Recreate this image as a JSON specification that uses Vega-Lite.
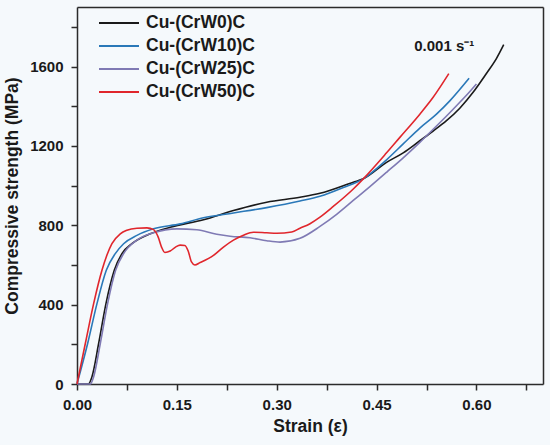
{
  "$schema": "https://vega.github.io/schema/vega-lite/v6.json",
  "width": 466,
  "height": 377,
  "autosize": {"type": "none"},
  "padding": {"left": 77, "top": 7, "right": 7, "bottom": 61},
  "background": "#f5f9fc",
  "config": {
    "font": "Liberation Sans",
    "view": {"stroke": null}
  },
  "resolve": {"axis": {"x": "independent", "y": "independent"}},
  "datasets": {
    "curves": [
      {"series": "Cu-(CrW0)C", "strain": 0.0, "stress": 0},
      {"series": "Cu-(CrW0)C", "strain": 0.017, "stress": 0},
      {"series": "Cu-(CrW0)C", "strain": 0.0225, "stress": 37},
      {"series": "Cu-(CrW0)C", "strain": 0.0325, "stress": 204},
      {"series": "Cu-(CrW0)C", "strain": 0.0435, "stress": 405},
      {"series": "Cu-(CrW0)C", "strain": 0.056, "stress": 573},
      {"series": "Cu-(CrW0)C", "strain": 0.0675, "stress": 657},
      {"series": "Cu-(CrW0)C", "strain": 0.0825, "stress": 707},
      {"series": "Cu-(CrW0)C", "strain": 0.11, "stress": 757},
      {"series": "Cu-(CrW0)C", "strain": 0.14, "stress": 790},
      {"series": "Cu-(CrW0)C", "strain": 0.19, "stress": 828},
      {"series": "Cu-(CrW0)C", "strain": 0.235, "stress": 874},
      {"series": "Cu-(CrW0)C", "strain": 0.285, "stress": 916},
      {"series": "Cu-(CrW0)C", "strain": 0.335, "stress": 941},
      {"series": "Cu-(CrW0)C", "strain": 0.365, "stress": 961},
      {"series": "Cu-(CrW0)C", "strain": 0.415, "stress": 1017},
      {"series": "Cu-(CrW0)C", "strain": 0.43, "stress": 1034},
      {"series": "Cu-(CrW0)C", "strain": 0.465, "stress": 1117},
      {"series": "Cu-(CrW0)C", "strain": 0.49, "stress": 1165},
      {"series": "Cu-(CrW0)C", "strain": 0.515, "stress": 1226},
      {"series": "Cu-(CrW0)C", "strain": 0.535, "stress": 1275},
      {"series": "Cu-(CrW0)C", "strain": 0.555, "stress": 1327},
      {"series": "Cu-(CrW0)C", "strain": 0.575, "stress": 1390},
      {"series": "Cu-(CrW0)C", "strain": 0.595, "stress": 1470},
      {"series": "Cu-(CrW0)C", "strain": 0.615, "stress": 1565},
      {"series": "Cu-(CrW0)C", "strain": 0.63, "stress": 1640},
      {"series": "Cu-(CrW0)C", "strain": 0.641, "stress": 1710},

      {"series": "Cu-(CrW10)C", "strain": 0.0, "stress": 0},
      {"series": "Cu-(CrW10)C", "strain": 0.016, "stress": 204},
      {"series": "Cu-(CrW10)C", "strain": 0.03, "stress": 405},
      {"series": "Cu-(CrW10)C", "strain": 0.044, "stress": 573},
      {"series": "Cu-(CrW10)C", "strain": 0.0575, "stress": 657},
      {"series": "Cu-(CrW10)C", "strain": 0.07, "stress": 707},
      {"series": "Cu-(CrW10)C", "strain": 0.09, "stress": 749},
      {"series": "Cu-(CrW10)C", "strain": 0.115, "stress": 782},
      {"series": "Cu-(CrW10)C", "strain": 0.155, "stress": 807},
      {"series": "Cu-(CrW10)C", "strain": 0.19, "stress": 838},
      {"series": "Cu-(CrW10)C", "strain": 0.235, "stress": 862},
      {"series": "Cu-(CrW10)C", "strain": 0.285, "stress": 889},
      {"series": "Cu-(CrW10)C", "strain": 0.335, "stress": 922},
      {"series": "Cu-(CrW10)C", "strain": 0.365, "stress": 946},
      {"series": "Cu-(CrW10)C", "strain": 0.4, "stress": 990},
      {"series": "Cu-(CrW10)C", "strain": 0.43, "stress": 1034},
      {"series": "Cu-(CrW10)C", "strain": 0.465, "stress": 1130},
      {"series": "Cu-(CrW10)C", "strain": 0.49, "stress": 1210},
      {"series": "Cu-(CrW10)C", "strain": 0.515, "stress": 1290},
      {"series": "Cu-(CrW10)C", "strain": 0.54, "stress": 1360},
      {"series": "Cu-(CrW10)C", "strain": 0.56, "stress": 1427},
      {"series": "Cu-(CrW10)C", "strain": 0.589, "stress": 1541},

      {"series": "Cu-(CrW25)C", "strain": 0.0, "stress": 0},
      {"series": "Cu-(CrW25)C", "strain": 0.02, "stress": 0},
      {"series": "Cu-(CrW25)C", "strain": 0.025, "stress": 37},
      {"series": "Cu-(CrW25)C", "strain": 0.035, "stress": 204},
      {"series": "Cu-(CrW25)C", "strain": 0.046, "stress": 405},
      {"series": "Cu-(CrW25)C", "strain": 0.058, "stress": 573},
      {"series": "Cu-(CrW25)C", "strain": 0.07, "stress": 657},
      {"series": "Cu-(CrW25)C", "strain": 0.09, "stress": 725},
      {"series": "Cu-(CrW25)C", "strain": 0.115, "stress": 762},
      {"series": "Cu-(CrW25)C", "strain": 0.15, "stress": 782},
      {"series": "Cu-(CrW25)C", "strain": 0.18, "stress": 777},
      {"series": "Cu-(CrW25)C", "strain": 0.21, "stress": 755},
      {"series": "Cu-(CrW25)C", "strain": 0.23, "stress": 745},
      {"series": "Cu-(CrW25)C", "strain": 0.26, "stress": 737},
      {"series": "Cu-(CrW25)C", "strain": 0.285, "stress": 722},
      {"series": "Cu-(CrW25)C", "strain": 0.305, "stress": 715},
      {"series": "Cu-(CrW25)C", "strain": 0.335, "stress": 734},
      {"series": "Cu-(CrW25)C", "strain": 0.365, "stress": 794},
      {"series": "Cu-(CrW25)C", "strain": 0.39, "stress": 855},
      {"series": "Cu-(CrW25)C", "strain": 0.415, "stress": 925},
      {"series": "Cu-(CrW25)C", "strain": 0.44, "stress": 995},
      {"series": "Cu-(CrW25)C", "strain": 0.465, "stress": 1067},
      {"series": "Cu-(CrW25)C", "strain": 0.49, "stress": 1140},
      {"series": "Cu-(CrW25)C", "strain": 0.515, "stress": 1218},
      {"series": "Cu-(CrW25)C", "strain": 0.54, "stress": 1300},
      {"series": "Cu-(CrW25)C", "strain": 0.565, "stress": 1385},
      {"series": "Cu-(CrW25)C", "strain": 0.585, "stress": 1455},
      {"series": "Cu-(CrW25)C", "strain": 0.6, "stress": 1512},

      {"series": "Cu-(CrW50)C", "strain": 0.0, "stress": 0},
      {"series": "Cu-(CrW50)C", "strain": 0.0125, "stress": 204},
      {"series": "Cu-(CrW50)C", "strain": 0.025, "stress": 405},
      {"series": "Cu-(CrW50)C", "strain": 0.0375, "stress": 573},
      {"series": "Cu-(CrW50)C", "strain": 0.045, "stress": 650},
      {"series": "Cu-(CrW50)C", "strain": 0.0525, "stress": 707},
      {"series": "Cu-(CrW50)C", "strain": 0.065, "stress": 757},
      {"series": "Cu-(CrW50)C", "strain": 0.075, "stress": 775},
      {"series": "Cu-(CrW50)C", "strain": 0.09, "stress": 785},
      {"series": "Cu-(CrW50)C", "strain": 0.105, "stress": 787},
      {"series": "Cu-(CrW50)C", "strain": 0.115, "stress": 778},
      {"series": "Cu-(CrW50)C", "strain": 0.122, "stress": 740},
      {"series": "Cu-(CrW50)C", "strain": 0.127, "stress": 690},
      {"series": "Cu-(CrW50)C", "strain": 0.132, "stress": 663},
      {"series": "Cu-(CrW50)C", "strain": 0.14, "stress": 670},
      {"series": "Cu-(CrW50)C", "strain": 0.148, "stress": 690},
      {"series": "Cu-(CrW50)C", "strain": 0.155, "stress": 700},
      {"series": "Cu-(CrW50)C", "strain": 0.162, "stress": 698},
      {"series": "Cu-(CrW50)C", "strain": 0.167, "stress": 670},
      {"series": "Cu-(CrW50)C", "strain": 0.172, "stress": 615},
      {"series": "Cu-(CrW50)C", "strain": 0.177, "stress": 600},
      {"series": "Cu-(CrW50)C", "strain": 0.185, "stress": 612},
      {"series": "Cu-(CrW50)C", "strain": 0.205, "stress": 648},
      {"series": "Cu-(CrW50)C", "strain": 0.22, "stress": 690},
      {"series": "Cu-(CrW50)C", "strain": 0.235, "stress": 725},
      {"series": "Cu-(CrW50)C", "strain": 0.25, "stress": 750},
      {"series": "Cu-(CrW50)C", "strain": 0.265, "stress": 765},
      {"series": "Cu-(CrW50)C", "strain": 0.285, "stress": 762},
      {"series": "Cu-(CrW50)C", "strain": 0.3, "stress": 760},
      {"series": "Cu-(CrW50)C", "strain": 0.3225, "stress": 766},
      {"series": "Cu-(CrW50)C", "strain": 0.335, "stress": 785},
      {"series": "Cu-(CrW50)C", "strain": 0.35, "stress": 808},
      {"series": "Cu-(CrW50)C", "strain": 0.365, "stress": 841},
      {"series": "Cu-(CrW50)C", "strain": 0.385, "stress": 895},
      {"series": "Cu-(CrW50)C", "strain": 0.415, "stress": 983},
      {"series": "Cu-(CrW50)C", "strain": 0.43, "stress": 1034},
      {"series": "Cu-(CrW50)C", "strain": 0.465, "stress": 1165},
      {"series": "Cu-(CrW50)C", "strain": 0.485, "stress": 1243},
      {"series": "Cu-(CrW50)C", "strain": 0.515, "stress": 1360},
      {"series": "Cu-(CrW50)C", "strain": 0.535, "stress": 1445},
      {"series": "Cu-(CrW50)C", "strain": 0.5585, "stress": 1564}
    ],
    "note": [
      {"strain": 0.5065, "stress": 1702, "label": "0.001 s⁻¹"}
    ]
  },
  "layer": [
    {
      "data": {"name": "curves"},
      "mark": {"type": "line", "strokeWidth": 1.6, "interpolate": "monotone"},
      "encoding": {
        "x": {
          "field": "strain",
          "type": "quantitative",
          "scale": {"domain": [0, 0.7], "nice": false},
          "axis": {
            "title": "Strain (ε)",
            "orient": "bottom",
            "values": [0, 0.075, 0.15, 0.225, 0.3, 0.375, 0.45, 0.525, 0.6, 0.675],
            "labelExpr": "round(datum.value / 0.075) % 2 == 0 ? format(datum.value, '.2f') : ''",
            "labelFlush": false,
            "grid": false,
            "domainColor": "#2b2b2b",
            "domainWidth": 1.5,
            "tickColor": "#2b2b2b",
            "tickWidth": 1.5,
            "tickSize": 6,
            "labelFont": "Liberation Sans",
            "labelFontSize": 15,
            "labelFontWeight": "bold",
            "labelColor": "#1a1a1a",
            "labelPadding": 7,
            "titleFont": "Liberation Sans",
            "titleFontSize": 17.5,
            "titleFontWeight": "bold",
            "titleColor": "#1a1a1a",
            "titlePadding": 5
          }
        },
        "y": {
          "field": "stress",
          "type": "quantitative",
          "scale": {"domain": [0, 1900], "nice": false},
          "axis": {
            "title": "Compressive strength (MPa)",
            "orient": "left",
            "values": [0, 200, 400, 600, 800, 1000, 1200, 1400, 1600, 1800],
            "labelExpr": "round(datum.value / 200) % 2 == 0 ? format(datum.value, 'd') : ''",
            "labelFlush": false,
            "grid": false,
            "domainColor": "#2b2b2b",
            "domainWidth": 1.5,
            "tickColor": "#2b2b2b",
            "tickWidth": 1.5,
            "tickSize": 6,
            "labelFont": "Liberation Sans",
            "labelFontSize": 15,
            "labelFontWeight": "bold",
            "labelColor": "#1a1a1a",
            "labelPadding": 8,
            "titleFont": "Liberation Sans",
            "titleFontSize": 17.5,
            "titleFontWeight": "bold",
            "titleColor": "#1a1a1a",
            "titlePadding": 8
          }
        },
        "color": {
          "field": "series",
          "type": "nominal",
          "scale": {
            "domain": ["Cu-(CrW0)C", "Cu-(CrW10)C", "Cu-(CrW25)C", "Cu-(CrW50)C"],
            "range": ["#1a1a1a", "#2a78b8", "#7f7ab4", "#e0262c"]
          },
          "legend": {
            "title": null,
            "orient": "none",
            "legendX": 31,
            "legendY": 5,
            "symbolType": "M-2,0H2",
            "symbolSize": 400,
            "symbolStrokeWidth": 2,
            "labelFont": "Liberation Sans",
            "labelFontSize": 17.5,
            "labelFontWeight": "bold",
            "labelColor": "#1a1a1a",
            "labelOffset": 16,
            "rowPadding": 3
          }
        }
      }
    },
    {
      "data": {"name": "note"},
      "mark": {"type": "text", "align": "left", "baseline": "middle", "font": "Liberation Sans", "fontSize": 15, "fontWeight": "bold", "color": "#1a1a1a"},
      "encoding": {
        "x": {
          "field": "strain",
          "type": "quantitative",
          "axis": {"orient": "top", "title": null, "labels": false, "ticks": false, "grid": false, "domainColor": "#2b2b2b", "domainWidth": 1.5}
        },
        "y": {
          "field": "stress",
          "type": "quantitative",
          "axis": {"orient": "right", "title": null, "labels": false, "ticks": false, "grid": false, "domainColor": "#2b2b2b", "domainWidth": 1.5}
        },
        "text": {"field": "label"}
      }
    }
  ]
}
